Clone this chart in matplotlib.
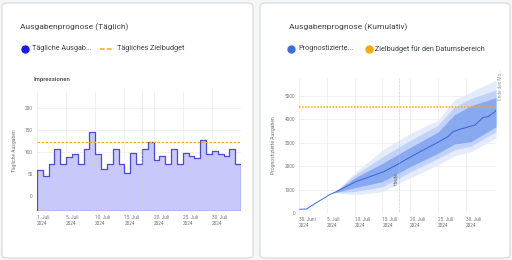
import matplotlib
matplotlib.use('Agg')
import matplotlib.pyplot as plt
from matplotlib.patches import FancyBboxPatch
import numpy as np

plt.rcParams['font.family'] = ['Roboto', 'DejaVu Sans']

# --- Daily chart data (day of July, 1..35) ---
tage = np.arange(1, 36)
taegliche_ausgaben = [59, 45, 72, 107, 72, 89, 95, 72, 107, 146,
                      95, 61, 72, 107, 72, 52, 98, 72, 108, 122,
                      82, 91, 72, 108, 72, 99, 91, 86, 127, 95,
                      103, 95, 91, 108, 72]
taegliches_zielbudget = 122
links_ticks = [0, 5, 10, 15, 20, 25, 30]
links_ticklabels = ['1. Juli\n2024', '5. Juli\n2024', '10. Juli\n2024', '15. Juli\n2024',
                    '20. Juli\n2024', '25. Juli\n2024', '30. Juli\n2024']
heute = 18

# --- Cumulative chart data (day of July, 30. Juni = 0) ---
ist_tage = [0.1, 1.3, 3.0, 4.9, 5.4, 6.3]
ist_werte = [160, 170, 430, 700, 780, 870]
prog_tage = [6.3, 10.2, 15.3, 18.05, 20.7, 25.0, 26.8, 27.7, 29.0, 31.7, 33.2, 34.1, 35.3, 35.5]
prog_werte = [870, 1340, 1770, 2120, 2480, 3020, 3260, 3470, 3580, 3760, 4090, 4120, 4330, 4400]
band_tage = [6.3, 10, 15, 20, 25, 28, 31, 35.5]
innen_unten = [870, 1080, 1340, 1980, 2550, 2950, 3050, 3690]
innen_oben = [870, 1500, 2120, 2800, 3450, 4200, 4590, 4930]
mitte_unten = [870, 920, 1120, 1750, 2330, 2700, 2860, 3470]
mitte_oben = [870, 1620, 2400, 3100, 3750, 4540, 4900, 5260]
aussen_unten = [870, 780, 910, 1500, 2050, 2450, 2620, 3200]
aussen_oben = [870, 1720, 2690, 3400, 3970, 4830, 5180, 5680]
zielbudget_bereich = 4520
rechts_ticks = [0, 5, 10, 15, 20, 25, 30]
rechts_ticklabels = ['30. Juni\n2024', '5. Juli\n2024', '10. Juli\n2024', '15. Juli\n2024',
                     '20. Juli\n2024', '25. Juli\n2024', '30. Juli\n2024']

W, H = 512, 260
fig = plt.figure(figsize=(W / 100, H / 100), dpi=100, facecolor='#f5f6f7')


def px(x, y):
    return x / W, 1 - y / H


# cards
for x0, x1 in [(2, 253), (260, 510)]:
    card = FancyBboxPatch((x0 / W, 2 / H), (x1 - x0) / W, (H - 5) / H,
                          boxstyle='round,pad=0,rounding_size=0.012',
                          transform=fig.transFigure, facecolor='white',
                          edgecolor='#d5d7db', linewidth=0.8, zorder=-10)
    fig.patches.append(card)

txt = '#3c4043'
grid_c = '#ececec'
tick_c = '#757575'

# ----- left chart -----
fig.text(*px(20, 27), 'Ausgabenprognose (Täglich)', fontsize=6.0, color=txt, va='center')
fig.text(*px(34, 79), 'Impressionen', fontsize=4.3, color=txt, va='center', fontweight='medium')
fig.lines.append(plt.Line2D([25 / W], [1 - 49 / H], marker='o', markersize=5,
                            color='#1a1aeb', transform=fig.transFigure))
fig.text(*px(32, 49), 'Tägliche Ausgab...', fontsize=5.2, color=txt, va='center')
fig.lines.append(plt.Line2D([100 / W, 114 / W], [1 - 49 / H] * 2, color='#f9ab00',
                            linestyle=(0, (3, 1.5)), linewidth=1.1, transform=fig.transFigure))
fig.text(*px(117, 49), 'Tägliches Zielbudget', fontsize=5.2, color=txt, va='center')

ax1 = fig.add_axes([37 / W, 1 - 211 / H, 204 / W, 120 / H])
ymin1, ymax1 = -34, 239
kanten = np.append(tage - 1, tage[-1])
werte = np.append(taegliche_ausgaben, taegliche_ausgaben[-1])
linie = '#4b4bcf'
ax1.fill_between(kanten, werte, ymin1, step='post', color='#c8c8fa', linewidth=0)
ax1.step(kanten, werte, where='post', color=linie, linewidth=0.9)
ax1.plot([kanten[0], kanten[0]], [ymin1, werte[0]], color=linie, linewidth=0.9)
ax1.plot([kanten[-1], kanten[-1]], [ymin1, werte[-1]], color=linie, linewidth=0.9)
ax1.plot([0, 35], [ymin1, ymin1], color=linie, linewidth=0.9)
ax1.axhline(taegliches_zielbudget, color='#f9ab00', linestyle=(0, (2, 1.2)), linewidth=0.9)
ax1.axvline(heute, color='#d0d0d0', linestyle=(0, (1, 1)), linewidth=0.5)
ax1.set_xlim(0, 35)
ax1.set_ylim(ymin1, ymax1)
ax1.set_yticks([0, 50, 100, 150, 200])
ax1.set_xticks(links_ticks)
ax1.set_xticklabels(links_ticklabels, ha='left')
ax1.set_ylabel('Tägliche Ausgaben', fontsize=3.6, color=tick_c, labelpad=6)
ax1.grid(True, color=grid_c, linewidth=0.5)
ax1.set_axisbelow(True)

# ----- right chart -----
fig.text(*px(289, 27), 'Ausgabenprognose (Kumulativ)', fontsize=6.0, color=txt, va='center')
fig.lines.append(plt.Line2D([291 / W], [1 - 49 / H], marker='o', markersize=5,
                            color='#3b6fe0', transform=fig.transFigure))
fig.text(*px(298, 49), 'Prognostizierte...', fontsize=5.2, color=txt, va='center')
fig.lines.append(plt.Line2D([369 / W], [1 - 49 / H], marker='o', markersize=5,
                            color='#f9ab00', transform=fig.transFigure))
fig.text(*px(375, 49), 'Zielbudget für den Datumsbereich', fontsize=5.2, color=txt, va='center')

ax2 = fig.add_axes([299.3 / W, 1 - 213 / H, 196.7 / W, 135 / H])
ax2.fill_between(band_tage, aussen_unten, aussen_oben, color='#e4ecfc', linewidth=0)
ax2.fill_between(band_tage, mitte_unten, mitte_oben, color='#c0d2f7', linewidth=0)
ax2.fill_between(band_tage, innen_unten, innen_oben, color='#88a8f0', linewidth=0)
ax2.plot(ist_tage, ist_werte, color='#3b6fe0', linewidth=0.7)
ax2.plot(prog_tage, prog_werte, color='#3464d8', linewidth=0.7)
ax2.axhline(zielbudget_bereich, color='#f9ab00', linestyle=(0, (1, 1)), linewidth=1.1)
ax2.axvline(heute, color='#bdbdbd', linestyle=(0, (1, 1)), linewidth=0.5)
ax2.text(heute - 0.5, 1450, 'Heute', rotation=90, fontsize=3.4, color='#5f6368',
         ha='center', va='center')
ax2.text(36.3, 5500, 'Ende des Mo...', rotation=90, fontsize=3.4, color='#9aa0a6',
         ha='center', va='center', clip_on=False)
ax2.set_xlim(0, 35.5)
ax2.set_ylim(0, 5770)
ax2.set_yticks([0, 1000, 2000, 3000, 4000, 5000])
ax2.set_xticks(rechts_ticks)
ax2.set_xticklabels(rechts_ticklabels, ha='left')
ax2.set_ylabel('Prognostizierte Ausgaben', fontsize=3.6, color=tick_c, labelpad=6)
ax2.grid(True, color=grid_c, linewidth=0.5)
ax2.set_axisbelow(True)

for ax in (ax1, ax2):
    ax.patch.set_alpha(0)
    for s in ax.spines.values():
        s.set_visible(False)
    ax.tick_params(length=0, labelsize=3.4, labelcolor=tick_c, pad=3)

fig.savefig('out.png', dpi=100, facecolor=fig.get_facecolor())
